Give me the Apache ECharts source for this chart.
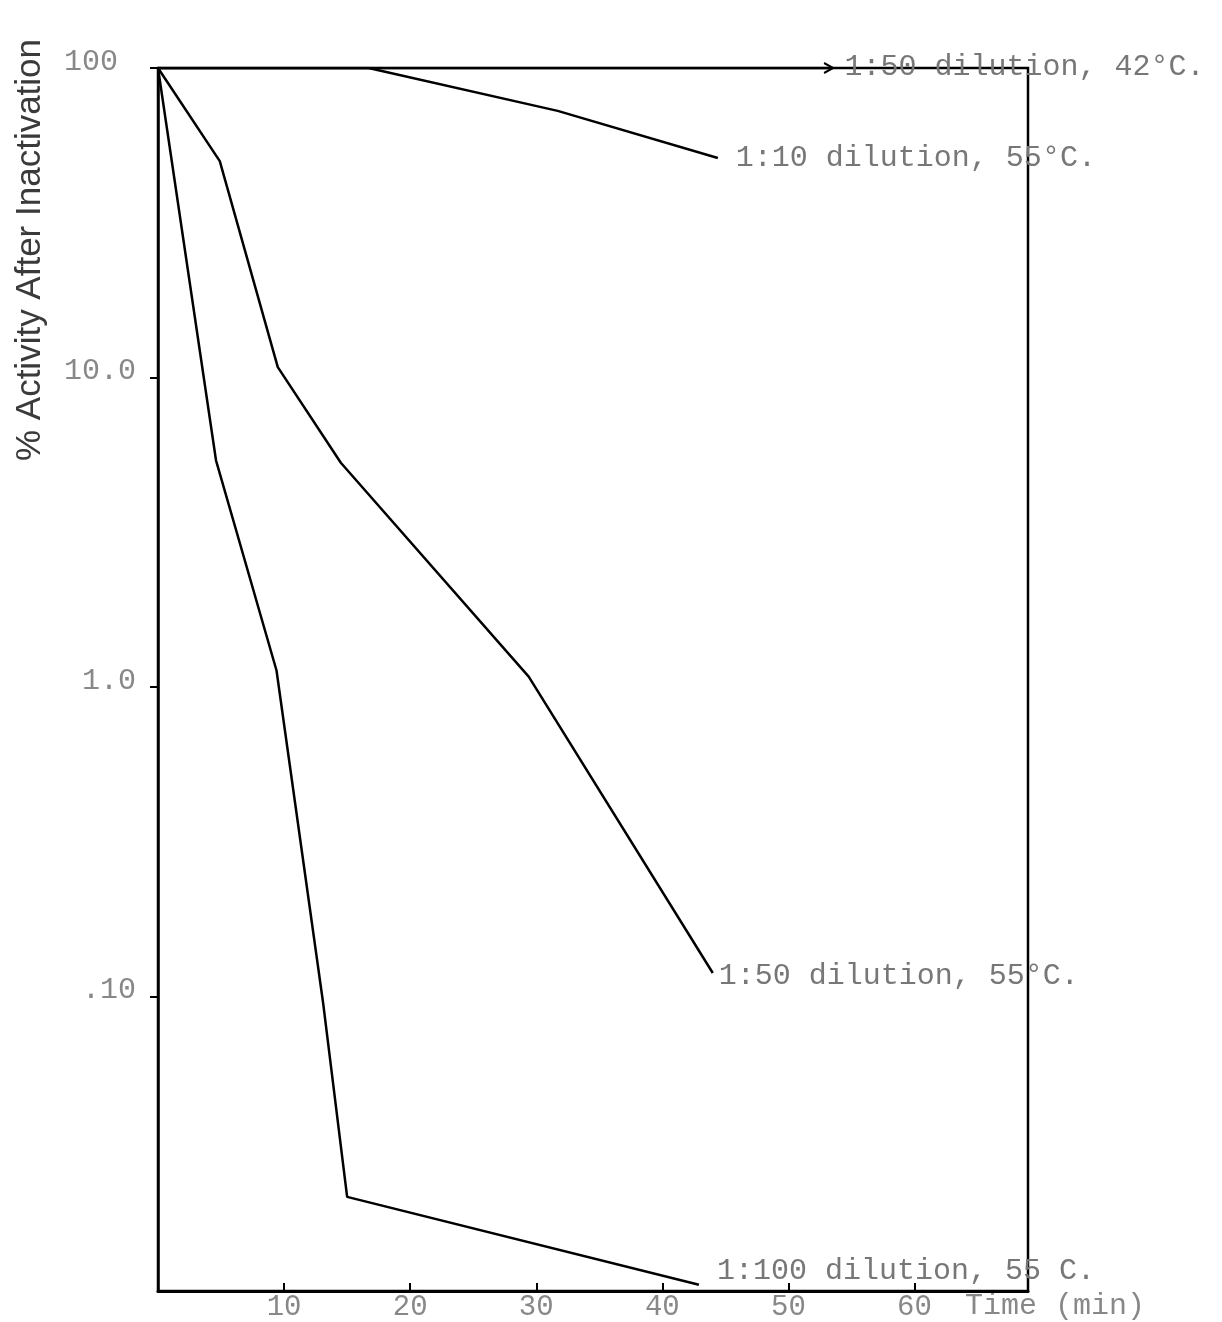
<!DOCTYPE html>
<html>
<head>
<meta charset="utf-8">
<script src="https://cdn.jsdelivr.net/npm/echarts@6/dist/echarts.min.js"></script>
<style>
  html, body { margin: 0; padding: 0; background: #fff; }
  #chart { width: 1222px; height: 1322px; }
</style>
</head>
<body>
<div id="chart"></div>
<script>
// ticks
const timeTicks = [10, 20, 30, 40, 50, 60];
const activityTicks = [0.1, 1, 10, 100];
const activityTickText = ['.10', '1.0', '10.0', '100 '];

// 1:50 dilution, 42 C
const time50at42 = [0, 53.5];
const act50at42 = [100, 100];
// 1:10 dilution, 55 C
const time10at55 = [0, 16.7, 31.7, 44.4];
const act10at55 = [100, 100, 72.7, 51.2];
// 1:50 dilution, 55 C
const time50at55 = [0, 4.9, 9.5, 14.5, 29.4, 44.0];
const act50at55 = [100, 50, 10.8, 5.3, 1.08, 0.119];
// 1:100 dilution, 55 C
const time100at55 = [0, 4.6, 9.4, 13.1, 15.0, 42.9];
const act100at55 = [100, 5.4, 1.13, 0.095, 0.0225, 0.0117];

const typeFont = '"Liberation Mono", "DejaVu Sans Mono", monospace';
const greyText = '#777';

const toPoints = (ts, vs) => ts.map((t, i) => [t, vs[i]]);

// end-of-line label in typewriter style
function endLabel(text, distance, offset) {
  return {
    show: true,
    formatter: text,
    distance: distance,
    offset: offset || [0, 0],
    color: greyText,
    fontFamily: typeFont,
    fontSize: 30
  };
}

const chart = echarts.init(document.getElementById('chart'));

const lineBase = {
  type: 'line',
  showSymbol: false,
  symbol: 'none',
  lineStyle: { color: '#000', width: 2.5 },
  animation: false
};

const arrowData = toPoints(time50at42, act50at42).map(p => ({ value: p }));
arrowData[arrowData.length - 1].symbol = 'path://M0,0 L10,5 L0,10';
arrowData[arrowData.length - 1].symbolSize = [9, 10];
arrowData[arrowData.length - 1].symbolOffset = [-4, 0];

const option = {
  backgroundColor: '#fff',
  grid: {
    left: 158,
    top: 68,
    right: 194,
    bottom: 29,
    show: true,
    borderColor: '#000',
    borderWidth: 2.5,
    containLabel: false
  },
  xAxis: {
    type: 'value',
    min: 0,
    max: 69,
    axisLine: { show: true, lineStyle: { color: '#000', width: 3 } },
    axisTick: {
      show: true,
      inside: true,
      length: 8,
      lineStyle: { color: '#000', width: 2 },
      customValues: timeTicks
    },
    axisLabel: {
      color: '#888',
      fontFamily: typeFont,
      fontSize: 29,
      margin: 2,
      customValues: timeTicks
    },
    splitLine: { show: false }
  },
  yAxis: {
    type: 'log',
    logBase: 10,
    min: 0.01117,
    max: 100,
    axisLine: { show: true, lineStyle: { color: '#000', width: 2.5 } },
    axisTick: {
      show: true,
      length: 8,
      lineStyle: { color: '#000', width: 2 },
      customValues: activityTicks
    },
    axisLabel: {
      color: '#888',
      fontFamily: typeFont,
      fontSize: 30,
      margin: 22,
      verticalAlign: 'bottom',
      lineHeight: 12,
      customValues: activityTicks,
      formatter: function (v) {
        const i = activityTicks.findIndex(t => Math.abs(Math.log10(t) - Math.log10(v)) < 1e-6);
        return i >= 0 ? activityTickText[i] : '';
      }
    },
    splitLine: { show: false }
  },
  graphic: [
    {
      type: 'text',
      x: 30,
      y: 250,
      rotation: Math.PI / 2,
      style: {
        text: '% Activity After Inactivation',
        font: '35px "Liberation Sans", "DejaVu Sans", sans-serif',
        fill: '#3a3a3a',
        textAlign: 'center',
        textVerticalAlign: 'middle'
      }
    },
    {
      type: 'text',
      x: 965,
      y: 1306,
      style: {
        text: 'Time (min)',
        font: '30px ' + typeFont,
        fill: '#888',
        textAlign: 'left',
        textVerticalAlign: 'middle'
      }
    }
  ],
  series: [
    Object.assign({}, lineBase, {
      name: '1:50 dilution, 42°C.',
      showSymbol: true,
      symbol: 'none',
      itemStyle: { color: 'transparent', borderColor: '#000', borderWidth: 2 },
      data: arrowData,
      endLabel: endLabel('1:50 dilution, 42°C.', 12, [0, -1])
    }),
    Object.assign({}, lineBase, {
      name: '1:10 dilution, 55°C.',
      data: toPoints(time10at55, act10at55),
      endLabel: endLabel('1:10 dilution, 55°C.', 18, [0, 0])
    }),
    Object.assign({}, lineBase, {
      name: '1:50 dilution, 55°C.',
      data: toPoints(time50at55, act50at55),
      endLabel: endLabel('1:50 dilution, 55°C.', 6, [0, 3])
    }),
    Object.assign({}, lineBase, {
      name: '1:100 dilution, 55 C.',
      data: toPoints(time100at55, act100at55),
      endLabel: endLabel('1:100 dilution, 55 C.', 18, [0, -14])
    })
  ]
};

chart.setOption(option);
</script>
</body>
</html>
